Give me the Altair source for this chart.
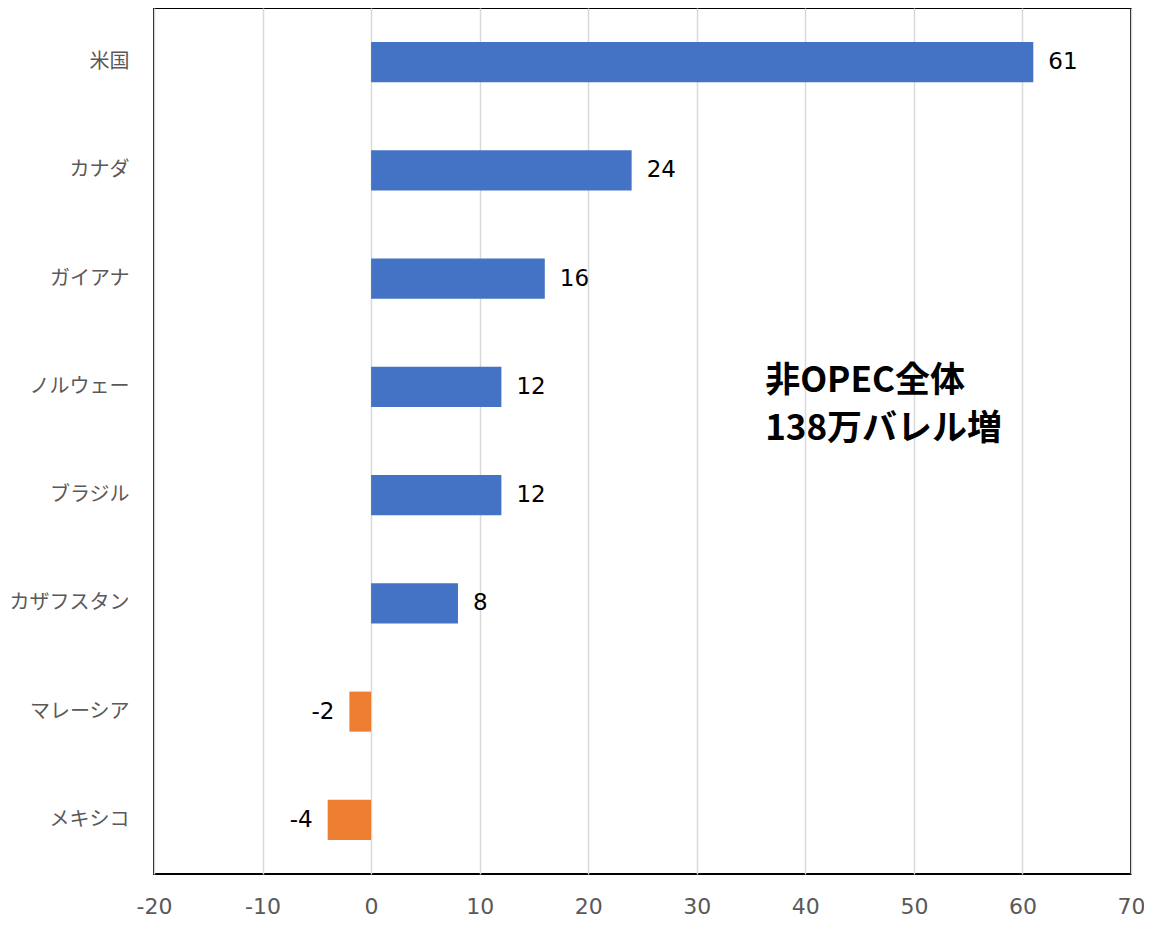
import altair as alt
import pandas as pd

countries = ["米国", "カナダ", "ガイアナ", "ノルウェー", "ブラジル", "カザフスタン", "マレーシア", "メキシコ"]
values = [61, 24, 16, 12, 12, 8, -2, -4]
x_ticks = [-20, -10, 0, 10, 20, 30, 40, 50, 60, 70]
note_lines = ["非OPEC全体", "138万バレル増"]
note_x = 36.3

df = pd.DataFrame({"country": countries, "value": values})
df["sign"] = ["pos" if v >= 0 else "neg" for v in values]
df["label"] = [str(v) for v in values]

note_df = pd.DataFrame({"x": [note_x], "country": ["ノルウェー"], "text": ["\n".join(note_lines)]})

y_enc = alt.Y("country:N", sort=countries,
              scale=alt.Scale(paddingInner=0.63, paddingOuter=0.315),
              axis=alt.Axis(title=None, ticks=False, domain=False, labelPadding=25,
                            labelFontSize=20, labelColor="#595959",
                            labelFont="Noto Sans CJK JP"))
x_scale = alt.Scale(domain=[-20, 70], nice=False, zero=False)
x_enc = alt.X("value:Q", scale=x_scale,
              axis=alt.Axis(title=None, values=x_ticks, ticks=False, domain=False,
                            grid=True, gridColor="#d9d9d9", gridWidth=1.5,
                            labelExpr="'' + datum.value", labelFlush=False,
                            labelPadding=22, labelFontSize=22, labelColor="#595959",
                            labelFont="DejaVu Sans"))

bars = alt.Chart(df).mark_bar().encode(
    y=y_enc,
    x=x_enc,
    color=alt.Color("sign:N", scale=alt.Scale(domain=["pos", "neg"], range=["#4472C4", "#ED7D31"]), legend=None),
)

pos_labels = alt.Chart(df).transform_filter("datum.value >= 0").mark_text(
    align="left", baseline="middle", dx=15, fontSize=23, font="DejaVu Sans", color="#000000"
).encode(y=alt.Y("country:N", sort=countries), x=alt.X("value:Q", scale=x_scale), text="label:N")

neg_labels = alt.Chart(df).transform_filter("datum.value < 0").mark_text(
    align="right", baseline="middle", dx=-15, fontSize=23, font="DejaVu Sans", color="#000000"
).encode(y=alt.Y("country:N", sort=countries), x=alt.X("value:Q", scale=x_scale), text="label:N")

note = alt.Chart(note_df).mark_text(
    align="left", baseline="top", dy=-23, lineBreak="\n", lineHeight=48,
    fontSize=35, fontWeight="bold", font="Noto Sans CJK JP", color="#000000"
).encode(y=alt.Y("country:N", sort=countries), x=alt.X("x:Q", scale=x_scale), text="text:N")

chart = alt.layer(bars, pos_labels, neg_labels, note).properties(
    width=977, height=866,
    autosize=alt.AutoSizeParams(type="none"),
    padding={"left": 146, "top": 0, "right": 13, "bottom": 48},
).configure_view(stroke="#000000", strokeWidth=2)

chart.save("out.html", embed_options={"renderer": "svg", "actions": False})
